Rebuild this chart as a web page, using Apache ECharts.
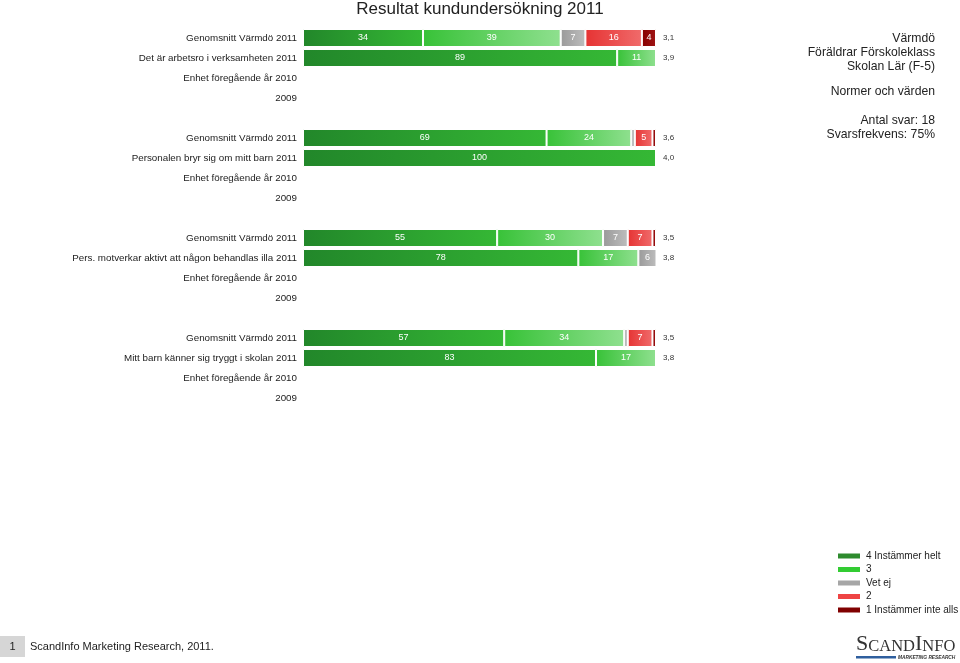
<!DOCTYPE html>
<html>
<head>
<meta charset="utf-8">
<script src="https://cdn.jsdelivr.net/npm/echarts@6/dist/echarts.min.js"></script>
<style>html,body{margin:0;padding:0;background:#fff}#c{width:960px;height:663px}</style>
</head>
<body>
<div id="c"></div>
<script>
var categories = [
  "Genomsnitt Värmdö 2011", "Det är arbetsro i verksamheten 2011", "Enhet föregående år 2010", "2009", "",
  "Genomsnitt Värmdö 2011", "Personalen bryr sig om mitt barn 2011", "Enhet föregående år 2010", "2009", "",
  "Genomsnitt Värmdö 2011", "Pers. motverkar aktivt att någon behandlas illa 2011", "Enhet föregående år 2010", "2009", "",
  "Genomsnitt Värmdö 2011", "Mitt barn känner sig tryggt i skolan 2011", "Enhet föregående år 2010", "2009", ""
];
var scores = ["3,1","3,9","","","", "3,6","4,0","","","", "3,5","3,8","","","", "3,5","3,8","","",""];
var seriesNames = ["4 Instämmer helt", "3", "Vet ej", "2", "1 Instämmer inte alls"];
var v4 = [34, 89, null, null, null, 69, 100, null, null, null, 55, 78, null, null, null, 57, 83, null, null, null];
var v3 = [39, 11, null, null, null, 24, 0, null, null, null, 30, 17, null, null, null, 34, 17, null, null, null];
var vVet = [7, 0, null, null, null, 1, 0, null, null, null, 7, 6, null, null, null, 1, 0, null, null, null];
var v2 = [16, 0, null, null, null, 5, 0, null, null, null, 7, 0, null, null, null, 7, 0, null, null, null];
var v1 = [4, 0, null, null, null, 1, 0, null, null, null, 1, 0, null, null, null, 1, 0, null, null, null];

var flat = ["#2e8b2e", "#33cc33", "#a6a6a6", "#ee4444", "#800000"];
var grads = [
  ["#22872a", "#35b835"],
  ["#38c238", "#8fe08f"],
  ["#9a9a9a", "#bdbdbd"],
  ["#e63333", "#f06b6b"],
  ["#860000", "#a01515"]
];
var allData = [v4, v3, vVet, v2, v1];

var chart = echarts.init(document.getElementById('c'));
var FONT = '"Liberation Sans", Arial, sans-serif';

var series = seriesNames.map(function (n, i) {
  return {
    name: n,
    type: 'bar',
    stack: 'tot',
    barWidth: 18,
    data: allData[i],
    itemStyle: {
      color: new echarts.graphic.LinearGradient(0, 0, 1, 0, [
        {offset: 0, color: grads[i][0]}, {offset: 1, color: grads[i][1]}
      ]),
      borderColor: '#fff',
      borderWidth: 1
    },
    label: {
      show: true,
      position: 'inside',
      color: '#fff',
      fontSize: 9,
      fontFamily: FONT,
      formatter: function (p) { return (p.value && p.value >= 3) ? String(p.value) : ''; }
    },
    emphasis: {disabled: true},
    animation: false
  };
});

chart.setOption({
  animation: false,
  title: {
    text: 'Resultat kundundersökning 2011',
    left: 'center',
    top: -4,
    textStyle: {fontSize: 17, fontWeight: 'normal', color: '#222', fontFamily: FONT}
  },
  grid: {left: 303, right: 304, top: 28, height: 400},
  xAxis: {type: 'value', min: 0, max: 100, show: false},
  yAxis: [
    {
      type: 'category', inverse: true, data: categories,
      axisLine: {show: false}, axisTick: {show: false},
      axisLabel: {margin: 6, fontSize: 9.8, color: '#222', fontFamily: FONT, interval: 0}
    },
    {
      type: 'category', inverse: true, position: 'right', data: scores,
      axisLine: {show: false}, axisTick: {show: false},
      axisLabel: {margin: 7, fontSize: 8, color: '#333', fontFamily: FONT, interval: 0}
    }
  ],
  legend: {
    orient: 'vertical',
    left: 836, top: 550, padding: 0,
    itemWidth: 24, itemHeight: 7, itemGap: 1.5,
    icon: 'rect',
    selectedMode: false,
    textStyle: {fontSize: 10, lineHeight: 12, color: '#222', fontFamily: FONT},
    data: seriesNames.map(function (n, i) { return {name: n, itemStyle: {color: flat[i]}}; })
  },
  series: series,
  graphic: [
    {type: 'text', x: 935, y: 32, style: {text: 'Värmdö\nFöräldrar Förskoleklass\nSkolan Lär (F-5)', align: 'right', verticalAlign: 'top', fill: '#222', font: '12.2px ' + FONT, lineHeight: 13.7}},
    {type: 'text', x: 935, y: 86, style: {text: 'Normer och värden', align: 'right', verticalAlign: 'top', fill: '#222', font: '12.2px ' + FONT}},
    {type: 'text', x: 935, y: 114, style: {text: 'Antal svar: 18\nSvarsfrekvens: 75%', align: 'right', verticalAlign: 'top', fill: '#222', font: '12.2px ' + FONT, lineHeight: 14}},
    {type: 'rect', shape: {x: 0, y: 636, width: 25, height: 21}, style: {fill: '#d6d6d6'}},
    {type: 'text', x: 12.5, y: 647, style: {text: '1', fill: '#222', font: '11px ' + FONT, align: 'center', verticalAlign: 'middle'}},
    {type: 'text', x: 30, y: 647, style: {text: 'ScandInfo Marketing Research, 2011.', fill: '#222', font: '11px ' + FONT, verticalAlign: 'middle'}},
    {type: 'text', x: 856, y: 644, style: {
      text: '{b|S}{s|CAND}{b|I}{s|NFO}', verticalAlign: 'middle',
      rich: {
        b: {fontSize: 22, fontFamily: '"Liberation Serif", serif', fill: '#333', verticalAlign: 'bottom'},
        s: {fontSize: 16.5, fontFamily: '"Liberation Serif", serif', fill: '#333', verticalAlign: 'bottom'}
      }
    }},
    {type: 'rect', shape: {x: 856, y: 656, width: 40, height: 2.5}, style: {fill: '#2f5f9e'}},
    {type: 'text', x: 898, y: 657.5, style: {text: 'MARKETING RESEARCH', fill: '#333', font: 'italic bold 4.8px ' + FONT, verticalAlign: 'middle'}}
  ]
});
</script>
</body>
</html>
